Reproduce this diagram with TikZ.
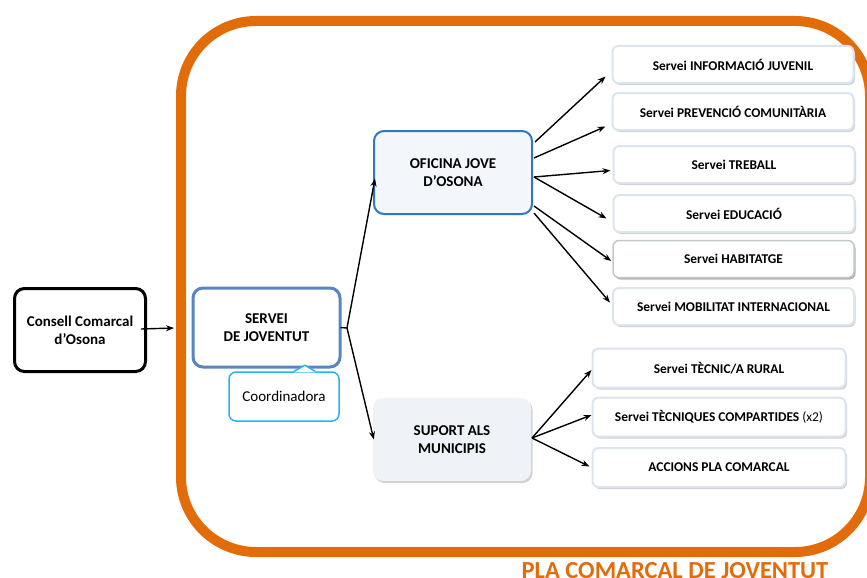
\documentclass[tikz,border=0pt]{standalone}
\usepackage{fontspec}
\setmainfont{Carlito}
\usetikzlibrary{arrows.meta,calc}
\definecolor{frameorange}{HTML}{E36C0A}
\definecolor{servblue}{HTML}{5A84C2}
\definecolor{ofiblue}{HTML}{2F78BE}
\definecolor{coordblue}{HTML}{27B4EC}
\definecolor{boxedge}{HTML}{DCE5EE}
\definecolor{ofifill}{HTML}{F3F6FA}
\definecolor{supfill}{HTML}{EFF2F6}
\tikzset{
  bigbox/.style={rounded corners=10pt, align=center, font=\fontsize{15}{18}\selectfont\bfseries, inner sep=2pt},
  svcbox/.style={draw=boxedge, line width=2pt, fill=white, rounded corners=6pt, minimum width=241pt, minimum height=37pt, font=\fontsize{13.4}{15}\selectfont\bfseries, inner sep=1pt},
  lowbox/.style={svcbox, minimum width=253pt, minimum height=39pt},
  conn/.style={line width=1.4pt, -{Stealth[length=8pt,width=6pt]}},
  shadowed/.style={preaction={fill=black!18, transform canvas={xshift=1.5pt,yshift=-2pt}}}
}
\begin{document}
\begin{tikzpicture}[x=1pt,y=-1pt]
\useasboundingbox (0,0) rectangle (867,578);
\clip (0,0) rectangle (867,578);
% orange frame
\draw[frameorange, line width=10pt, rounded corners=75pt] (181,21) rectangle (870,552);
\node[text=frameorange, font=\fontsize{24.5}{28}\selectfont\bfseries, anchor=base, inner sep=0pt] (title) at (675,578) {PLA COMARCAL DE JOVENTUT};

% main boxes
\node[bigbox, draw=black, line width=3pt, minimum width=131pt, minimum height=83pt] (cons) at (80,330) {Consell Comarcal\\d’Osona};
\node[bigbox, draw=servblue, line width=3pt, minimum width=147pt, minimum height=79pt] (serv) at (266.5,327.5) {SERVEI\\DE JOVENTUT};
\node[draw=coordblue, line width=1.5pt, fill=white, rounded corners=7pt, minimum width=110pt, minimum height=49pt, font=\fontsize{15}{18}\selectfont, inner sep=1pt] (coord) at (284,396.5) {Coordinadora};
\coordinate (pL) at ($(coord.north)+(10,0)$);
\coordinate (pT) at ($(coord.north)+(21,-6)$);
\coordinate (pR) at ($(coord.north)+(31,0)$);
\fill[white] ($(pL)+(0,1)$) -- (pT) -- ($(pR)+(0,1)$) -- cycle;
\draw[coordblue, line width=1.5pt, line join=round] (pL) -- (pT) -- (pR);

\node[bigbox, draw=ofiblue, line width=2pt, fill=ofifill, minimum width=158pt, minimum height=83pt] (ofi) at (453,172.5) {OFICINA JOVE\\D’OSONA};
\node[bigbox, fill=supfill, shadowed, minimum width=158pt, minimum height=83pt] (sup) at (452,439.5) {SUPORT ALS\\MUNICIPIS};

% service boxes
\node[svcbox, shadowed] (s1) at (733,64.5) {Servei INFORMACIÓ JUVENIL};
\node[svcbox, shadowed] (s2) at (733,111.5) {Servei PREVENCIÓ COMUNITÀRIA};
\node[svcbox, shadowed] (s3) at (734,164.5) {Servei TREBALL};
\node[svcbox, shadowed] (s4) at (734,213.5) {Servei EDUCACIÓ};
\node[svcbox, draw=boxedge!70!gray, line width=1.5pt, preaction={fill=black!30, transform canvas={xshift=1.5pt,yshift=-2pt}}] (s5) at (733.5,259) {Servei HABITATGE};
\node[svcbox, shadowed] (s6) at (733.5,306.5) {Servei MOBILITAT INTERNACIONAL};

\node[lowbox, shadowed] (l1) at (719,368) {Servei TÈCNIC/A RURAL};
\node[lowbox, shadowed] (l2) at (719,417) {Servei TÈCNIQUES COMPARTIDES {\mdseries(x2)}};
\node[lowbox, shadowed] (l3) at (719,467.5) {ACCIONS PLA COMARCAL};

% connectors
\coordinate (frameL) at (174,328);
\draw[conn] ($(cons.east)+(-6,-1)$) -- (frameL);
\coordinate (hub) at (347,328);
\draw[line width=1.4pt] ($(serv.east)+(-1,0)$) -- (hub);
\draw[conn] (hub) -- ($(ofi.west)+(2,6)$);
\draw[conn] (hub) -- ($(sup.west)+(1,0)$);

\coordinate (o1) at (535,142);
\coordinate (o2) at (534,158);
\coordinate (o3) at (534,177);
\coordinate (o4) at (534,206);
\coordinate (o5) at (534,213);
\draw[conn] (o1) -- ($(s1.west)+(-6,12)$);
\draw[conn] (o2) -- ($(s2.west)+(-6,15)$);
\draw[conn] (o3) -- ($(s3.west)+(-2,6)$);
\draw[conn] (o3) -- ($(s4.west)+(-6,5)$);
\draw[conn] (o4) -- ($(s5.west)+(-1,2)$);
\draw[conn] (o5) -- ($(s6.west)+(-2,-4)$);

\coordinate (so) at (532,438);
\draw[conn] (so) -- ($(l1.west)+(0,2)$);
\draw[conn] (so) -- ($(l2.west)+(0,-2)$);
\draw[conn] (so) -- ($(l3.west)+(-2,-1)$);
\end{tikzpicture}
\end{document}
